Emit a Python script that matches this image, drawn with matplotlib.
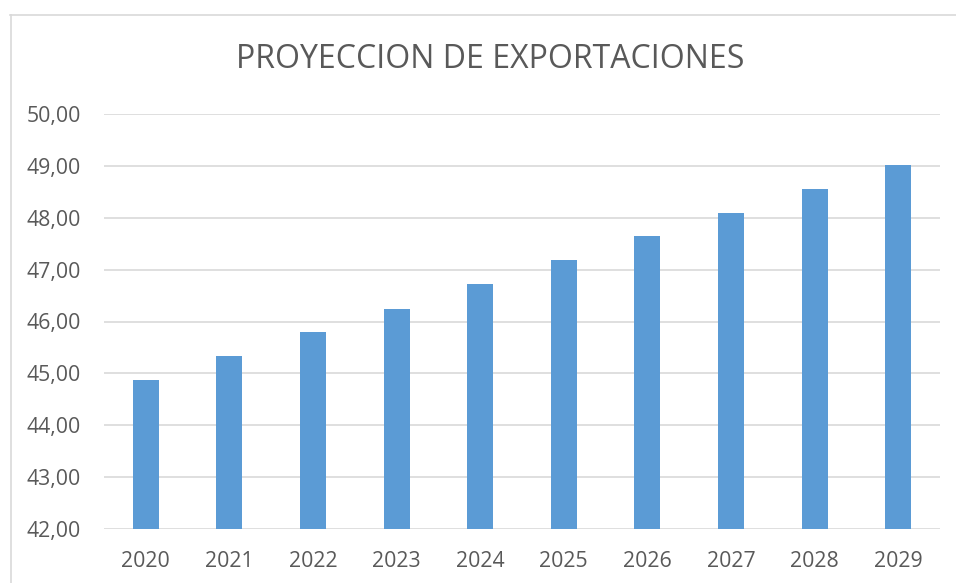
import matplotlib
matplotlib.use('Agg')
import matplotlib.pyplot as plt
from matplotlib.lines import Line2D
from matplotlib.ticker import FuncFormatter

years = ['2020', '2021', '2022', '2023', '2024', '2025', '2026', '2027', '2028', '2029']
exports = [44.87, 45.33, 45.79, 46.25, 46.72, 47.18, 47.64, 48.10, 48.56, 49.02]

plt.rcParams['font.family'] = ['Open Sans', 'DejaVu Sans']

fig = plt.figure(figsize=(9.56, 5.83), dpi=100)
ax = fig.add_axes([104 / 956, 1 - 529 / 583, 836 / 956, 415 / 583])

ax.bar(range(len(years)), exports, width=0.31, color='#5B9BD5', zorder=3)
ax.set_xlim(-0.5, len(years) - 0.5)
ax.set_ylim(42, 50)
ax.set_yticks(range(42, 51))
ax.yaxis.set_major_formatter(FuncFormatter(lambda v, p: f'{v:.2f}'.replace('.', ',')))
ax.set_xticks(range(len(years)))
ax.set_xticklabels(years)

ax.grid(axis='y', color='#D9D9D9', linewidth=1.2, zorder=0)
for s in ax.spines.values():
    s.set_visible(False)
ax.tick_params(axis='both', length=0, labelsize=15.3, colors='#595959')
ax.tick_params(axis='y', pad=16.5)
ax.tick_params(axis='x', pad=16)

fig.text(490 / 956, 1 - 60 / 583, 'PROYECCION DE EXPORTACIONES', ha='center', va='center',
         fontsize=23, color='#595959')

# chart border (left and top edges visible)
fig.add_artist(Line2D([10.5 / 956, 10.5 / 956], [0, 1 - 15 / 583], transform=fig.transFigure,
                      color='#D9D9D9', linewidth=1.2))
fig.add_artist(Line2D([10 / 956, 1], [1 - 15 / 583, 1 - 15 / 583], transform=fig.transFigure,
                      color='#D9D9D9', linewidth=1.2))

fig.savefig('out.png', dpi=100, facecolor='white')
